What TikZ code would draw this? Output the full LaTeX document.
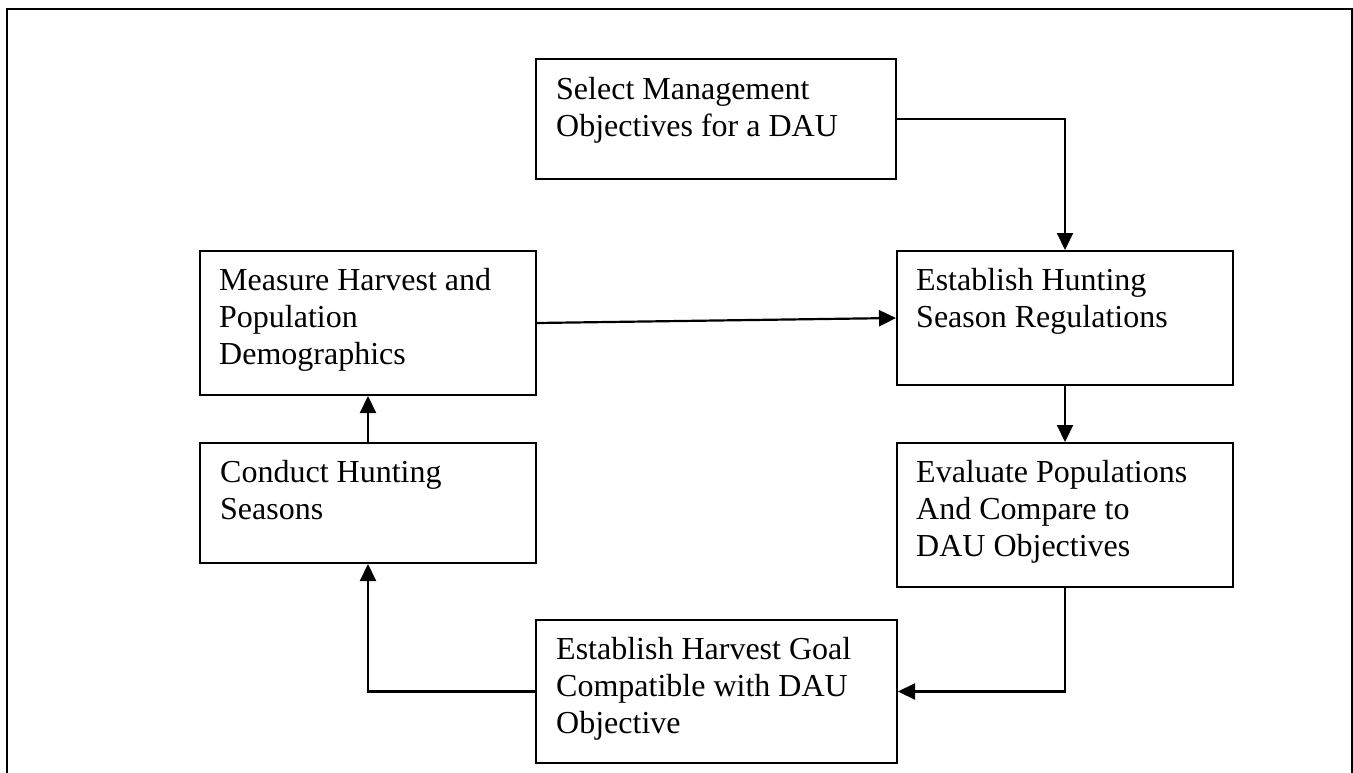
\documentclass[tikz,border=0pt]{standalone}
\usepackage{fontspec}
\setmainfont{Liberation Serif}
\usepackage[svgnames]{xcolor}
\usepackage{tikz}
\usetikzlibrary{arrows.meta}
\tikzstyle{none}=[inner sep=0pt]
\tikzstyle{box}=[draw=Black, line width=2pt, inner sep=0pt, anchor=north west]
\tikzstyle{boxtext}=[inner sep=0pt, anchor=north west, align=left, font=\fontsize{32}{37}\selectfont]
\tikzstyle{frame}=[-,draw=Black, line width=2.6pt]
\tikzstyle{arrow}=[-{Triangle[length=17pt,width=16pt]},draw=Black, line width=2.2pt]

\begin{document}
\begin{tikzpicture}[x=1pt, y=-1pt]
  \useasboundingbox (0,0) rectangle (1353,773);
  \draw [style=frame] (7,773) -- (7,9) -- (1352,9) -- (1352,773);
  \node [style=box, minimum width=360pt, minimum height=120pt] (0) at (535, 58) {};
  \node [style=box, minimum width=336pt, minimum height=134pt] (1) at (896, 250) {};
  \node [style=box, minimum width=336pt, minimum height=144pt] (2) at (199, 250) {};
  \node [style=box, minimum width=336pt, minimum height=144pt] (3) at (896, 442) {};
  \node [style=box, minimum width=336pt, minimum height=120pt] (4) at (199, 442) {};
  \node [style=box, minimum width=361pt, minimum height=143pt] (5) at (535, 619) {};
  \node [style=boxtext] (6) at (556, 77) {Select Management\\Objectives for a DAU};
  \node [style=boxtext] (7) at (916, 268) {Establish Hunting\\Season Regulations};
  \node [style=boxtext] (8) at (219, 268) {Measure Harvest and\\Population\\Demographics};
  \node [style=boxtext] (9) at (916, 460) {Evaluate Populations\\And Compare to\\DAU Objectives};
  \node [style=boxtext] (10) at (220, 460) {Conduct Hunting\\Seasons};
  \node [style=boxtext] (11) at (556, 637) {Establish Harvest Goal\\Compatible with DAU\\Objective};
  \draw [style=arrow] (0.east) -| (1.north);
  \draw [style=arrow] (2.east) to (1.west);
  \draw [style=arrow] (1.south) to (3.north);
  \draw [style=arrow] (3.south) |- (5.east);
  \draw [style=arrow] (5.west) -| (4.south);
  \draw [style=arrow] (4.north) to (2.south);
\end{tikzpicture}
\end{document}
